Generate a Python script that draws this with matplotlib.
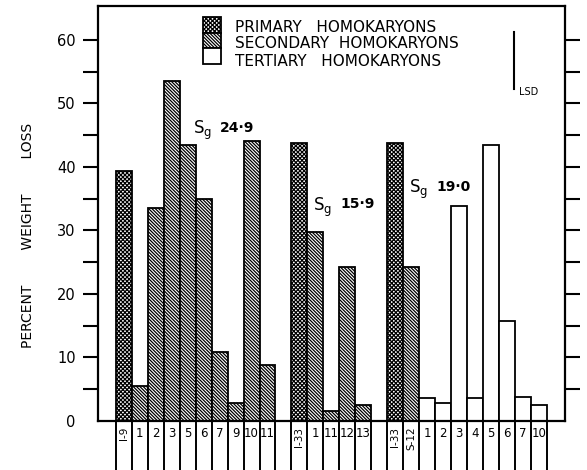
import numpy as np
import matplotlib
matplotlib.use("Agg")
import matplotlib.pyplot as plt
from matplotlib.patches import Rectangle

plt.rcParams['font.family'] = 'DejaVu Sans'
plt.rcParams['hatch.linewidth'] = 0.9

# three groups of strains, values are percent weight loss
g1_labels = ["I-9", "1", "2", "3", "5", "6", "7", "9", "10", "11"]
g1_values = [39.3, 5.5, 33.6, 53.6, 43.5, 35.0, 10.9, 2.9, 44.1, 8.8]
g1_types = ["primary"] + ["secondary"] * 9

g2_labels = ["I-33", "1", "11", "12", "13"]
g2_values = [43.7, 29.7, 1.6, 24.3, 2.5]
g2_types = ["primary"] + ["secondary"] * 4

g3_labels = ["I-33", "S-12", "1", "2", "3", "4", "5", "6", "7", "10"]
g3_values = [43.7, 24.3, 3.6, 2.8, 33.9, 3.7, 43.5, 15.7, 3.8, 2.5]
g3_types = ["primary", "secondary"] + ["tertiary"] * 8

sg_values = [24.9, 15.9, 19.0]
lsd = 9.0

legend_names = ["PRIMARY   HOMOKARYONS", "SECONDARY  HOMOKARYONS", "TERTIARY   HOMOKARYONS"]
hatches = {"primary": "xxxxxxxx", "secondary": "\\" * 10, "tertiary": ""}

groups = [(g1_labels, g1_values, g1_types),
          (g2_labels, g2_values, g2_types),
          (g3_labels, g3_values, g3_types)]

# positions: one empty bar slot between groups
xs, vals, types, labels = [], [], [], []
pos = 0
for lab, v, t in groups:
    for i in range(len(v)):
        xs.append(pos + i)
    vals += v
    types += t
    labels += lab
    pos += len(v) + 1
xs = np.array(xs)
vals = np.array(vals)
types = np.array(types)

W, H = 587, 470
fig = plt.figure(figsize=(W / 100, H / 100), dpi=100)
ax = fig.add_axes([98 / W, 1 - 421 / H, (565 - 98) / W, (421 - 6) / H])

for t in ["primary", "secondary", "tertiary"]:
    m = types == t
    ax.bar(xs[m], vals[m], width=1, align="edge", facecolor="white",
           edgecolor="black", linewidth=1.3, hatch=hatches[t])

ax.set_xlim(-1.125, 28.15)
ax.set_ylim(0, 65.35)

for s in ax.spines.values():
    s.set_linewidth(1.6)

ax.set_xticks([])
ax.set_yticks(range(0, 61, 10))
ax.set_yticks(range(5, 60, 10), minor=True)
ax.tick_params(which="both", direction="out", length=11, width=1.5,
               left=True, right=True, labelright=False, pad=5, labelsize=10.5)
tk = ax.yaxis.get_major_ticks()[0]
tk.tick1line.set_visible(False)
tk.tick2line.set_visible(False)

# divider lines and strain labels under the axis
edges = np.unique(np.concatenate([xs, xs + 1]))
ax.vlines(edges, -8, 0, color="black", linewidth=1.4, clip_on=False)
for x, lab in zip(xs, labels):
    if "-" in lab:
        ax.text(x + 0.5, -0.9, lab, rotation=90, ha="center", va="top",
                fontsize=7.5, clip_on=False)
    else:
        ax.text(x + 0.5, -1.9, lab, ha="center", va="center",
                fontsize=8.5, clip_on=False)

# S_g annotations
sg_pos = [(4.8, 45.8), (12.35, 33.7), (18.4, 36.5)]
for (x, y), v in zip(sg_pos, sg_values):
    ax.text(x, y, r"$\mathregular{S_g}$", fontsize=12, ha="left", va="center")
    ax.text(x + 1.7, y + 0.4, f"{v:.1f}".replace(".", "·"), fontsize=10,
            fontweight="bold", ha="left", va="center")

# LSD bar
ax.plot([24.95, 24.95], [61.3 - lsd, 61.3], color="black", linewidth=1.5)
ax.text(25.25, 61.3 - lsd - 0.5, "LSD", fontsize=7, ha="left", va="center")

# legend block
def fx(px):
    return px / W

def fy(py):
    return 1 - py / H

rows = [(17, 33), (33, 48), (48, 64)]
text_y = [28, 44, 61]
for t, (y0, y1), ty, name in zip(["primary", "secondary", "tertiary"], rows, text_y, legend_names):
    fig.add_artist(Rectangle((fx(203), fy(y1)), fx(221) - fx(203), fy(y0) - fy(y1),
                             transform=fig.transFigure, facecolor="white",
                             edgecolor="black", linewidth=1.3, hatch=hatches[t]))
    fig.text(fx(235), fy(ty), name, fontsize=11, ha="left", va="center")

fig.text(28 / W, 0.5, "PERCENT" + " " * 8 + "WEIGHT" + " " * 8 + "LOSS",
         rotation=90, ha="center", va="center", fontsize=10)

fig.savefig("out.png", dpi=100)
